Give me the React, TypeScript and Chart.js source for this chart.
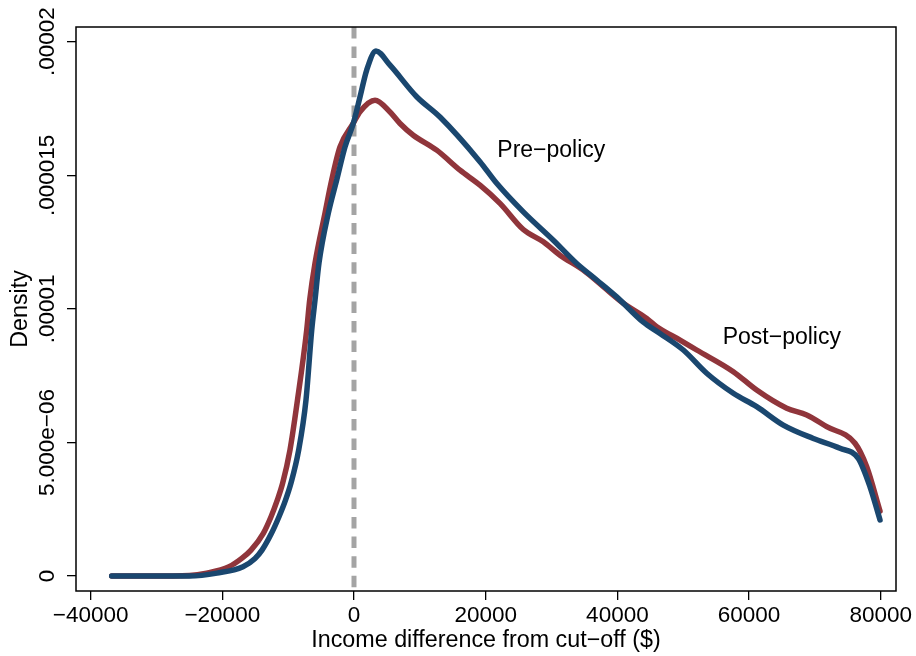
import React, { useEffect, useRef } from "react";
import { Chart, registerables } from "chart.js";

Chart.register(...registerables);

const FONT = '"Liberation Sans", Arial, Helvetica, sans-serif';

// Pre-policy density (blue)
const preIncome = [
  -36800, -31000, -25000, -20800, -16860, -15030, -13970, -12530, -11390, -10400, -9570, -8400,
  -7290, -6420, -5920, -5320, -3900, -2630, -1370, -100, 910, 1930,
  3340, 5470, 9520, 13060, 19130, 21670, 25710, 30270, 33820, 36860,
  39890, 43890, 46470, 50010, 53560, 57600, 61150, 65190, 69750, 73800,
  76580, 78360, 79880,
];
const preDensity = [
  0, 0, 0, 0.11e-6, 0.35e-6, 0.66e-6, 0.97e-6, 1.6e-6, 2.22e-6, 2.84e-6, 3.48e-6, 4.72e-6,
  6.59e-6, 9.21e-6, 10.33e-6, 11.71e-6, 13.58e-6, 14.82e-6, 16.06e-6, 16.95e-6, 17.93e-6, 18.94e-6,
  19.65e-6, 19.12e-6, 17.94e-6, 17.18e-6, 15.51e-6, 14.7e-6, 13.63e-6, 12.57e-6, 11.7e-6, 11.08e-6,
  10.45e-6, 9.51e-6, 9.08e-6, 8.46e-6, 7.59e-6, 6.84e-6, 6.34e-6, 5.65e-6, 5.15e-6, 4.78e-6,
  4.4e-6, 3.34e-6, 2.1e-6,
];

// Post-policy density (red)
const postIncome = [
  -36800, -31000, -25000, -22370, -18980, -17050, -15640, -13770, -12600, -11650, -10830,
  -9720, -8580, -7180, -6730, -5920, -4400, -3390, -2130, -100, 910,
  3190, 5470, 6990, 9000, 12560, 16100, 19130, 22170, 25710, 28750,
  31280, 34820, 37860, 40900, 44450, 45970, 49510, 52040, 57600, 61150,
  65710, 68750, 71780, 76080, 77860, 79880,
];
const postDensity = [
  0, 0, 0.02e-6, 0.11e-6, 0.35e-6, 0.66e-6, 0.97e-6, 1.6e-6, 2.22e-6, 2.84e-6, 3.48e-6,
  4.72e-6, 6.59e-6, 9.21e-6, 10.33e-6, 11.71e-6, 13.59e-6, 14.82e-6, 16.06e-6, 16.95e-6, 17.38e-6,
  17.81e-6, 17.37e-6, 16.94e-6, 16.5e-6, 15.94e-6, 15.19e-6, 14.63e-6, 13.95e-6, 12.97e-6, 12.51e-6,
  12.01e-6, 11.45e-6, 10.83e-6, 10.21e-6, 9.64e-6, 9.33e-6, 8.83e-6, 8.46e-6, 7.65e-6, 6.96e-6,
  6.28e-6, 6.03e-6, 5.59e-6, 4.97e-6, 4.09e-6, 2.43e-6,
];

const xTickValues = [-40000, -20000, 0, 20000, 40000, 60000, 80000];
const xTickLabels = ["\u221240000", "\u221220000", "0", "20000", "40000", "60000", "80000"];
const yTickValues = [0, 0.000005, 0.00001, 0.000015, 0.00002];
const yTickLabels = ["0", "5.000e\u221206", ".00001", ".000015", ".00002"];

const xTitle = "Income difference from cut\u2212off ($)";
const yTitle = "Density";
const cutoffValue = 0;
const labelTexts = ["Pre\u2212policy", "Post\u2212policy"];
const labelIncome = [21760, 55990];
const labelDensity = [0.000016, 0.000009];

const X_MIN = -42217;
const X_MAX = 82308;
const Y_MIN = -0.00000056;
const Y_MAX = 0.00002055;

const BLUE = "#1a476f";
const RED = "#90353b";

const decorPlugin = {
  id: "decor",
  beforeDatasetsDraw(chart: any) {
    const { ctx, chartArea: a, scales } = chart;
    const px = scales.x.getPixelForValue(cutoffValue);
    ctx.save();
    ctx.strokeStyle = "#a4a4a4";
    ctx.lineWidth = 5;
    ctx.setLineDash([11.5, 8.1]);
    ctx.beginPath();
    ctx.moveTo(px, a.top);
    ctx.lineTo(px, a.bottom);
    ctx.stroke();
    ctx.restore();
  },
  afterDraw(chart: any) {
    const { ctx, chartArea: a, scales } = chart;
    const xs = scales.x;
    const ys = scales.y;
    ctx.save();
    ctx.strokeStyle = "#000";
    ctx.lineWidth = 1.5;
    ctx.strokeRect(a.left, a.top, a.right - a.left, a.bottom - a.top);

    ctx.fillStyle = "#000";
    ctx.font = `22.5px ${FONT}`;
    ctx.textAlign = "center";
    ctx.textBaseline = "alphabetic";
    xTickValues.forEach((v, i) => {
      ctx.fillText(xTickLabels[i], xs.getPixelForValue(v), a.bottom + 31);
    });
    yTickValues.forEach((v, i) => {
      ctx.save();
      ctx.translate(a.left - 22, ys.getPixelForValue(v));
      ctx.rotate(-Math.PI / 2);
      ctx.textAlign = "center";
      ctx.fillText(yTickLabels[i], 0, 0);
      ctx.restore();
    });
    ctx.font = `23.3px ${FONT}`;
    ctx.textAlign = "center";
    ctx.fillText(xTitle, (a.left + a.right) / 2, a.bottom + 56);
    ctx.save();
    ctx.translate(a.left - 49, (a.top + a.bottom) / 2);
    ctx.rotate(-Math.PI / 2);
    ctx.fillText(yTitle, 0, 0);
    ctx.restore();
    ctx.font = `23px ${FONT}`;
    ctx.textAlign = "left";
    labelTexts.forEach((t, i) => {
      ctx.fillText(t, xs.getPixelForValue(labelIncome[i]), ys.getPixelForValue(labelDensity[i]) + 8.5);
    });
    ctx.restore();
  },
};

export default function App() {
  const canvasRef = useRef<HTMLCanvasElement | null>(null);

  useEffect(() => {
    const canvas = canvasRef.current;
    if (!canvas) return;
    const chart = new Chart(canvas, {
      type: "line",
      data: {
        datasets: [
          {
            label: "Pre-policy",
            data: preIncome.map((x, i) => ({ x, y: preDensity[i] })),
            borderColor: BLUE,
            borderWidth: 5.5,
            pointRadius: 0,
            fill: false,
            cubicInterpolationMode: "monotone",
            borderCapStyle: "round",
            borderJoinStyle: "round",
          },
          {
            label: "Post-policy",
            data: postIncome.map((x, i) => ({ x, y: postDensity[i] })),
            borderColor: RED,
            borderWidth: 5.5,
            pointRadius: 0,
            fill: false,
            cubicInterpolationMode: "monotone",
            borderCapStyle: "round",
            borderJoinStyle: "round",
          },
        ],
      },
      options: {
        animation: false,
        responsive: false,
        events: [],
        layout: { padding: { left: 0, right: 20, top: 27, bottom: 0 } },
        plugins: {
          legend: { display: false },
          tooltip: { enabled: false },
          title: { display: false },
        },
        scales: {
          x: {
            type: "linear",
            min: X_MIN,
            max: X_MAX,
            afterBuildTicks: (s: any) => {
              s.ticks = xTickValues.map((value) => ({ value }));
            },
            afterFit: (s: any) => {
              s.height = 65;
            },
            ticks: { display: false },
            border: { display: false },
            grid: {
              display: true,
              drawOnChartArea: false,
              drawTicks: true,
              tickLength: 9,
              color: "#000",
              lineWidth: 1.3,
            },
          },
          y: {
            type: "linear",
            min: Y_MIN,
            max: Y_MAX,
            afterBuildTicks: (s: any) => {
              s.ticks = yTickValues.map((value) => ({ value }));
            },
            afterFit: (s: any) => {
              s.width = 76;
            },
            ticks: { display: false },
            border: { display: false },
            grid: {
              display: true,
              drawOnChartArea: false,
              drawTicks: true,
              tickLength: 9,
              color: "#000",
              lineWidth: 1.3,
            },
          },
        },
      },
      plugins: [decorPlugin],
    } as any);
    return () => chart.destroy();
  }, []);

  return (
    <div style={{ position: "absolute", left: 0, top: 0, width: 916, height: 656, background: "#fff" }}>
      <canvas ref={canvasRef} width={916} height={656} style={{ display: "block" }} />
    </div>
  );
}
